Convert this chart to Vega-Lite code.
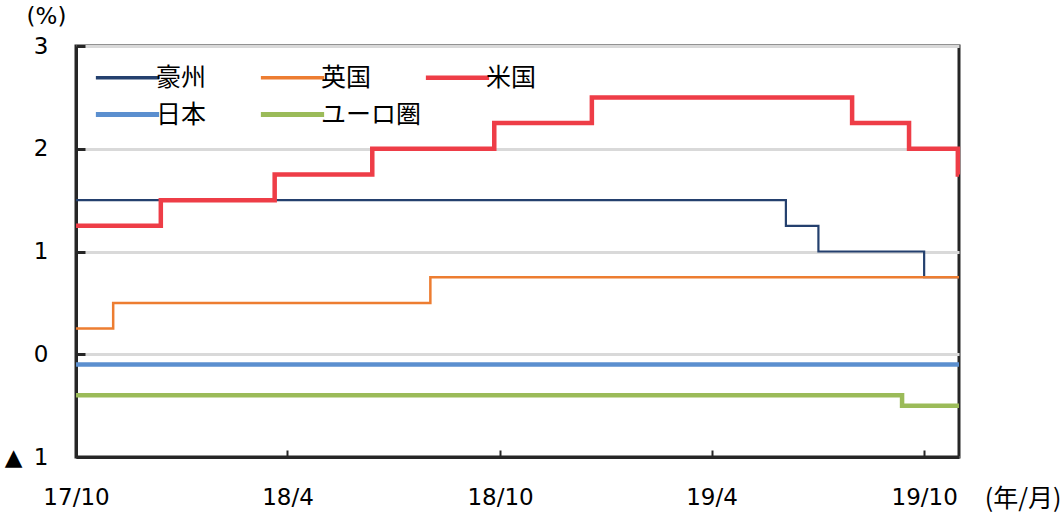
{
  "$schema": "https://vega.github.io/schema/vega-lite/v6.json",
  "autosize": "none",
  "width": 883,
  "height": 411,
  "padding": {"left": 76, "top": 46, "right": 103, "bottom": 59},
  "background": "white",
  "config": {
    "font": "DejaVu Sans",
    "view": {"stroke": "#262626", "strokeWidth": 3},
    "axis": {"labelFont": "DejaVu Sans, Noto Sans CJK JP", "titleFont": "Noto Sans CJK JP", "labelColor": "#000", "titleColor": "#000", "labelFontSize": 23, "titleFontSize": 25, "labelFontWeight": "normal", "titleFontWeight": "normal"},
    "legend": {"labelFont": "Noto Sans CJK JP", "labelFontSize": 25, "labelColor": "#000"}
  },
  "data": {
    "values": [
      {"country": "豪州", "date": "2017/10/01", "rate": 1.5},
      {"country": "豪州", "date": "2019/06/04", "rate": 1.25},
      {"country": "豪州", "date": "2019/07/02", "rate": 1.0},
      {"country": "豪州", "date": "2019/10/01", "rate": 0.75},
      {"country": "豪州", "date": "2019/10/31", "rate": 0.75},
      {"country": "英国", "date": "2017/10/01", "rate": 0.25},
      {"country": "英国", "date": "2017/11/02", "rate": 0.5},
      {"country": "英国", "date": "2018/08/02", "rate": 0.75},
      {"country": "英国", "date": "2019/10/31", "rate": 0.75},
      {"country": "米国", "date": "2017/10/01", "rate": 1.25},
      {"country": "米国", "date": "2017/12/13", "rate": 1.5},
      {"country": "米国", "date": "2018/03/21", "rate": 1.75},
      {"country": "米国", "date": "2018/06/13", "rate": 2.0},
      {"country": "米国", "date": "2018/09/26", "rate": 2.25},
      {"country": "米国", "date": "2018/12/19", "rate": 2.5},
      {"country": "米国", "date": "2019/07/31", "rate": 2.25},
      {"country": "米国", "date": "2019/09/18", "rate": 2.0},
      {"country": "米国", "date": "2019/10/30", "rate": 1.75},
      {"country": "米国", "date": "2019/10/31", "rate": 1.75},
      {"country": "日本", "date": "2017/10/01", "rate": -0.1},
      {"country": "日本", "date": "2019/10/31", "rate": -0.1},
      {"country": "ユーロ圏", "date": "2017/10/01", "rate": -0.4},
      {"country": "ユーロ圏", "date": "2019/09/12", "rate": -0.5},
      {"country": "ユーロ圏", "date": "2019/10/31", "rate": -0.5}
    ]
  },
  "encoding": {
    "x": {
      "field": "date", "type": "temporal",
      "scale": {"domain": [{"year": 2017, "month": 10, "date": 1}, {"year": 2019, "month": 10, "date": 31}]},
      "axis": {
        "values": [{"year": 2017, "month": 10, "date": 1}, {"year": 2018, "month": 4, "date": 1}, {"year": 2018, "month": 10, "date": 1}, {"year": 2019, "month": 4, "date": 1}, {"year": 2019, "month": 10, "date": 1}],
        "labelExpr": "timeFormat(datum.value, '%y/%-m')",
        "grid": false,
        "domainColor": "#262626", "domainWidth": 3,
        "tickColor": "#262626", "tickWidth": 2, "tickSize": -7,
        "labelPadding": 36,
        "labelFlush": false,
        "title": "(年/月)",
        "titleX": 985, "titleY": 41, "titleAlign": "right", "titleBaseline": "middle"
      }
    },
    "y": {
      "field": "rate", "type": "quantitative",
      "scale": {"domain": [-1, 3], "nice": false, "zero": false},
      "axis": {
        "values": [-1, 0, 1, 2, 3],
        "labelExpr": "datum.value < 0 ? '▲\u2002' + abs(datum.value) : datum.label",
        "grid": true, "gridColor": "#D9D9D9", "gridWidth": 3,
        "domainColor": "#262626", "domainWidth": 3,
        "tickColor": "#262626", "tickWidth": 3, "tickSize": -9,
        "labelPadding": 37,
        "title": "(%)",
        "titleFont": "DejaVu Sans", "titleFontSize": 23,
        "titleAngle": 0, "titleX": -30, "titleY": -30, "titleAlign": "center", "titleBaseline": "middle"
      }
    },
    "color": {
      "field": "country", "type": "nominal",
      "scale": {"domain": ["豪州", "英国", "米国", "日本", "ユーロ圏"], "range": ["#24406E", "#ED7D31", "#EE3D47", "#5B8FCF", "#9BBB59"]},
      "legend": {
        "title": null, "orient": "none", "legendX": 39, "legendY": 19,
        "direction": "horizontal", "columns": 3, "gridAlign": "all",
        "columnPadding": -7, "rowPadding": 11, "padding": 0,
        "symbolType": "stroke", "symbolSize": 4000, "labelOffset": 16,
        "labelLimit": 300,
        "encode": {"symbols": {"update": {"strokeWidth": {"signal": "datum.value === '米国' ? 4.5 : (datum.value === '豪州' ? 3.5 : (datum.value === '英国' ? 3.5 : 5))"}}}}
      }
    }
  },
  "layer": [
    {"transform": [{"filter": "datum.country === '豪州'"}], "mark": {"type": "line", "interpolate": "step-after", "strokeWidth": 2.2}},
    {"transform": [{"filter": "datum.country === '英国'"}], "mark": {"type": "line", "interpolate": "step-after", "strokeWidth": 2.5}},
    {"transform": [{"filter": "datum.country === '米国'"}], "mark": {"type": "line", "interpolate": "step-after", "strokeWidth": 4.5}},
    {"transform": [{"filter": "datum.country === '日本'"}], "mark": {"type": "line", "interpolate": "step-after", "strokeWidth": 4.5}},
    {"transform": [{"filter": "datum.country === 'ユーロ圏'"}], "mark": {"type": "line", "interpolate": "step-after", "strokeWidth": 4.5}}
  ]
}
